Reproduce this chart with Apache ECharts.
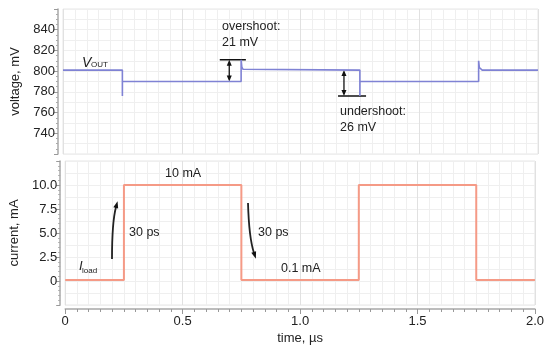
<!DOCTYPE html>
<html>
<head>
<meta charset="utf-8">
<script src="https://cdn.jsdelivr.net/npm/echarts@6/dist/echarts.min.js"></script>
<style>
  html, body { margin: 0; padding: 0; background: #fff; }
  #chart { width: 547px; height: 349px; }
</style>
</head>
<body>
<div id="chart"></div>
<script>
// time in µs
const voltageTime = [0, 0.25, 0.25, 0.2502, 0.75, 0.75, 0.753, 0.758, 0.765, 1.25, 1.25, 1.2502, 1.75, 1.75, 1.753, 1.758, 1.765, 2.0];
// V_OUT in mV
const voltageValues = [801, 801, 776, 790, 790, 811, 804, 801.8, 801, 801, 776, 790, 790, 810, 803.5, 801.6, 801, 801];

const currentTime = [0, 0.25, 0.25003, 0.75, 0.75003, 1.25, 1.25003, 1.75, 1.75003, 2.0];
// I_load in mA
const currentValues = [0.1, 0.1, 10, 10, 0.1, 0.1, 10, 10, 0.1, 0.1];

const timeTicks = [0, 0.5, 1.0, 1.5, 2.0];
const voltageTicks = [740, 760, 780, 800, 820, 840];
const currentTicks = [0, 2.5, 5.0, 7.5, 10.0];

const FONT = "Liberation Sans";
const TXT = "#222";

var chart = echarts.init(document.getElementById("chart"));

function pairs(xs, ys) {
  return xs.map((x, i) => [x, ys[i]]);
}

const gridLine = { show: true, lineStyle: { color: "#e1e1e1", width: 1 } };
const minorLine = { show: true, lineStyle: { color: "#efefef", width: 1 } };

const option = {
  animation: false,
  textStyle: { fontFamily: FONT },
  grid: [
    { left: 63, top: 9, width: 475, height: 145, show: true, borderColor: "#e6e6e6", borderWidth: 1 },
    { left: 63, top: 161, width: 475, height: 144, show: true, borderColor: "#e6e6e6", borderWidth: 1 },
  ],
  xAxis: [
    {
      type: "value", gridIndex: 0, min: 0, max: 2, interval: 0.5,
      axisLine: { show: false, onZero: false }, axisTick: { show: false }, axisLabel: { show: false },
      splitLine: gridLine,
      minorTick: { show: false, splitNumber: 10 },
      minorSplitLine: minorLine,
    },
    {
      type: "value", gridIndex: 1, min: 0, max: 2, interval: 0.5, offset: 4,
      name: "time, µs", nameLocation: "middle", nameGap: 23,
      nameTextStyle: { color: TXT, fontSize: 13, fontFamily: FONT },
      axisLine: { show: true, onZero: false, lineStyle: { color: "#a8a8a8", width: 1.5 } },
      axisTick: { show: true, length: 5, lineStyle: { color: "#999" } },
      minorTick: { show: true, splitNumber: 10, length: 3, lineStyle: { color: "#999" } },
      axisLabel: {
        color: TXT, fontSize: 13, margin: 6,
        formatter: (v) => (timeTicks.indexOf(v) >= 0 ? (v === 0 ? "0" : v.toFixed(1)) : ""),
      },
      splitLine: gridLine,
      minorSplitLine: minorLine,
    },
  ],
  yAxis: [
    {
      type: "value", gridIndex: 0, min: 720, max: 860, interval: 20, offset: 5,
      name: "voltage, mV", nameLocation: "middle", nameGap: 32,
      nameTextStyle: { color: TXT, fontSize: 13, fontFamily: FONT },
      axisLine: { show: true, onZero: false, lineStyle: { color: "#a8a8a8", width: 1.5 } },
      axisTick: { show: true, length: 4, lineStyle: { color: "#999" } },
      minorTick: { show: true, splitNumber: 4, length: 2, lineStyle: { color: "#aaa" } },
      axisLabel: {
        color: TXT, fontSize: 13, margin: 3,
        formatter: (v) => (voltageTicks.indexOf(v) >= 0 ? String(v) : ""),
      },
      splitLine: gridLine,
    },
    {
      type: "value", gridIndex: 0, min: 720, max: 860, interval: 10,
      axisLine: { show: false, onZero: false }, axisTick: { show: false }, axisLabel: { show: false },
      splitLine: minorLine,
    },
    {
      type: "value", gridIndex: 1, min: -2.5, max: 12.5, interval: 2.5, offset: 5,
      name: "current, mA", nameLocation: "middle", nameGap: 32,
      nameTextStyle: { color: TXT, fontSize: 13, fontFamily: FONT },
      axisLine: { show: true, onZero: false, lineStyle: { color: "#a8a8a8", width: 1.5 } },
      axisTick: { show: true, length: 4, lineStyle: { color: "#999" } },
      minorTick: { show: true, splitNumber: 5, length: 2, lineStyle: { color: "#aaa" } },
      axisLabel: {
        color: TXT, fontSize: 13, margin: 3,
        formatter: (v) => (currentTicks.indexOf(v) >= 0 ? (v === 0 ? "0" : v.toFixed(1)) : ""),
      },
      splitLine: gridLine,
    },
    {
      type: "value", gridIndex: 1, min: -2.5, max: 12.5, interval: 1.25,
      axisLine: { show: false, onZero: false }, axisTick: { show: false }, axisLabel: { show: false },
      splitLine: minorLine,
    },
  ],
  series: [
    {
      type: "line", xAxisIndex: 0, yAxisIndex: 0, showSymbol: false,
      data: pairs(voltageTime, voltageValues),
      lineStyle: { color: "#7f82d4", width: 1.6 },
    },
    {
      type: "line", xAxisIndex: 1, yAxisIndex: 2, showSymbol: false,
      data: pairs(currentTime, currentValues),
      lineStyle: { color: "#f59a86", width: 2 },
    },
  ],
};
chart.setOption(option);

// annotations
function px(g, x, y) {
  return chart.convertToPixel({ gridIndex: g }, [x, y]);
}
function head(tip, ang, len, wid) {
  const c = Math.cos(ang), s = Math.sin(ang);
  const bx = tip[0] - c * len, by = tip[1] - s * len;
  return {
    type: "polygon",
    shape: { points: [tip, [bx - s * wid / 2, by + c * wid / 2], [bx + s * wid / 2, by - c * wid / 2]] },
    style: { fill: "#111" },
  };
}
function dblArrow(g, x, y1, y2) {
  const a = px(g, x, y1), b = px(g, x, y2);
  const dir = b[1] > a[1] ? 1 : -1;
  return [
    { type: "line", shape: { x1: a[0], y1: a[1] + dir * 4, x2: b[0], y2: b[1] - dir * 4 }, style: { stroke: "#111", lineWidth: 1.3 } },
    head(a, dir > 0 ? -Math.PI / 2 : Math.PI / 2, 6, 5),
    head(b, dir > 0 ? Math.PI / 2 : -Math.PI / 2, 6, 5),
  ];
}
function hLine(g, x1, x2, y) {
  const a = px(g, x1, y), b = px(g, x2, y);
  return { type: "line", shape: { x1: a[0], y1: a[1], x2: b[0], y2: b[1] }, style: { stroke: "#111", lineWidth: 1.5 } };
}
function curvedArrow(p0, cp, p1) {
  const ang = Math.atan2(p1[1] - cp[1], p1[0] - cp[0]);
  const tip = [p1[0] + Math.cos(ang) * 6, p1[1] + Math.sin(ang) * 6];
  return [
    { type: "bezierCurve", shape: { x1: p0[0], y1: p0[1], cpx1: cp[0], cpy1: cp[1], x2: p1[0], y2: p1[1] }, style: { stroke: "#222", lineWidth: 1.8, fill: null } },
    head(tip, ang, 7, 5),
  ];
}
function txt(x, y, s, size, extra) {
  return {
    type: "text", x: x, y: y,
    style: Object.assign({ text: s, fill: TXT, font: (size || 13) + "px " + FONT, textVerticalAlign: "middle" }, extra || {}),
  };
}

const els = [].concat(
  hLine(0, 0.66, 0.77, 811),
  dblArrow(0, 0.70, 811, 790),
  hLine(0, 1.158, 1.276, 776),
  dblArrow(0, 1.183, 801, 776),
  curvedArrow([112, 259], [112, 222], [116, 207]),
  curvedArrow([248, 203], [249, 238], [254, 253]),
  [
    txt(222, 27, "overshoot:", 12.5),
    txt(222, 43, "21 mV", 12.5),
    txt(340, 112, "undershoot:", 12.5),
    txt(340, 128, "26 mV", 12.5),
    txt(82, 63, "V", 14, { font: "italic 14px " + FONT }),
    txt(91, 65, "OUT", 8),
    txt(165, 174, "10 mA", 12.5),
    txt(129, 233, "30 ps", 12.5),
    txt(258, 233, "30 ps", 12.5),
    txt(281, 269, "0.1 mA", 12.5),
    txt(79, 266, "I", 13, { font: "italic 13px " + FONT }),
    txt(82, 271, "load", 8),
  ]
);
chart.setOption({ graphic: { elements: els } });
</script>
</body>
</html>
